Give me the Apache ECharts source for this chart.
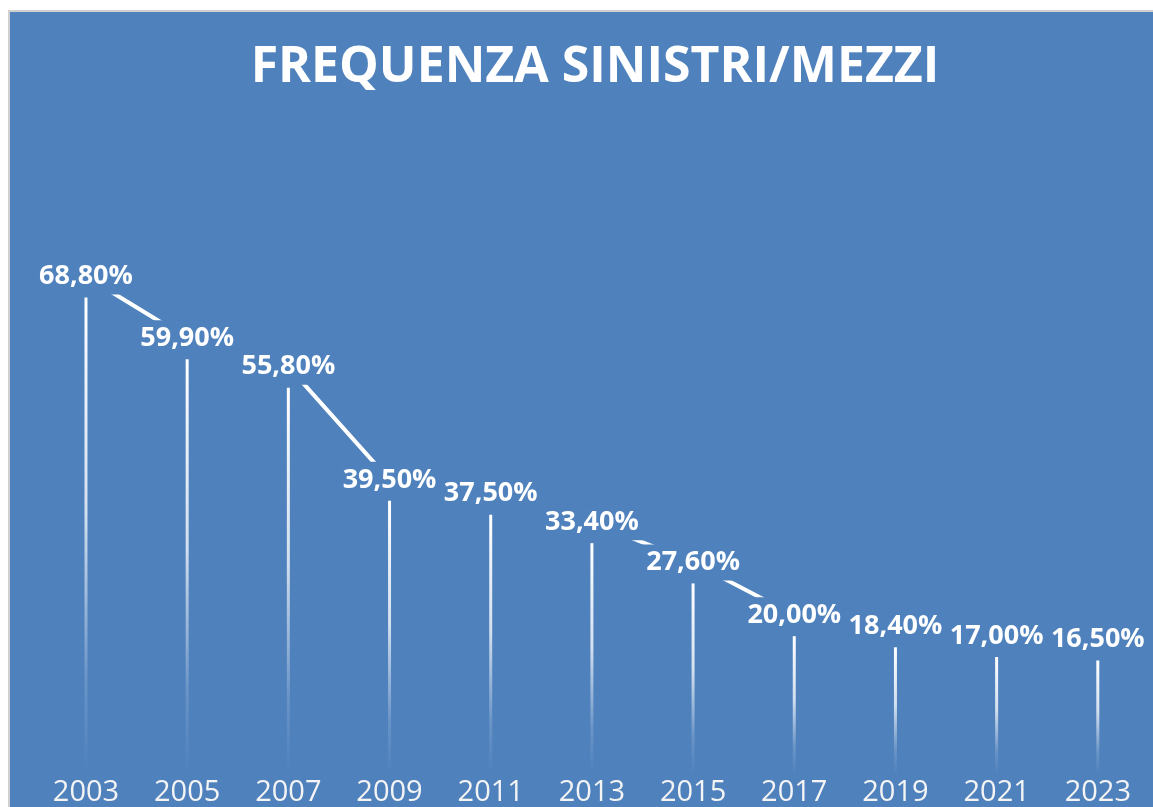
<!DOCTYPE html>
<html>
<head>
<meta charset="utf-8">
<script src="https://cdn.jsdelivr.net/npm/echarts@6/dist/echarts.min.js"></script>
<style>
html,body{margin:0;padding:0;background:#ffffff;width:1153px;height:807px;overflow:hidden;}
#frame{position:absolute;left:8px;top:10px;border-left:2px solid #d0d0d0;border-top:2px solid #d0d0d0;width:1143px;height:795px;background:#4F81BD;}
#chart{width:1143px;height:795px;}
</style>
</head>
<body>
<div id="frame"><div id="chart"></div></div>
<script>
const titleText = 'FREQUENZA SINISTRI/MEZZI';
const years = ['2003','2005','2007','2009','2011','2013','2015','2017','2019','2021','2023'];
const freq = [68.8, 59.9, 55.8, 39.5, 37.5, 33.4, 27.6, 20.0, 18.4, 17.0, 16.5];
const yMin = 0;
const yMax = 80;

const chart = echarts.init(document.getElementById('chart'), null, {renderer:'canvas'});
const barGradient = new echarts.graphic.LinearGradient(0, 0, 0, 1, [
  {offset: 0, color: 'rgba(255,255,255,1)'},
  {offset: 0.45, color: 'rgba(255,255,255,0.75)'},
  {offset: 0.8, color: 'rgba(255,255,255,0.15)'},
  {offset: 1, color: 'rgba(255,255,255,0)'}
]);
const dropOffset = 21;

const option = {
  animation: false,
  backgroundColor: '#4F81BD',
  title: {
    text: titleText,
    left: 580,
    textAlign: 'center',
    top: 26,
    textStyle: {color:'#ffffff', fontSize:50, fontWeight:'bold', fontFamily:'Open Sans'}
  },
  grid: {left: 25.4, right: 4.6, top: 186.7, bottom: 52.3, containLabel: false},
  xAxis: {
    type: 'category',
    data: years,
    boundaryGap: true,
    axisLine: {show:false},
    axisTick: {show:false},
    splitLine: {show:false},
    axisLabel: {color:'#F4F4F4', fontSize:29, fontFamily:'Open Sans', margin:24}
  },
  yAxis: {
    type: 'value', min: yMin, max: yMax, show: false,
    splitLine: {show:false}
  },
  series: [
    {
      type: 'custom',
      z: 1,
      data: years.map((y, i) => [i, freq[i]]),
      renderItem: function(params, api) {
        const top = api.coord([api.value(0), api.value(1)]);
        const base = api.coord([api.value(0), 0]);
        return {
          type: 'rect',
          shape: {x: top[0] - 1.5, y: top[1] + dropOffset, width: 3, height: base[1] - top[1]},
          style: {fill: barGradient}
        };
      }
    },
    {
      type: 'line',
      z: 2,
      data: freq,
      symbol: 'circle',
      symbolSize: 0,
      showSymbol: true,
      itemStyle: {color: '#ffffff'},
      lineStyle: {color:'#ffffff', width:4},
      label: {
        show: true,
        position: 'inside',
        offset: [0, 2],
        formatter: p => Number(p.value).toFixed(2).replace('.', ',') + '%',
        color: '#ffffff',
        fontSize: 27,
        fontWeight: 'bold',
        fontFamily: 'Open Sans',
        backgroundColor: '#4F81BD',
        lineHeight: 36,
        padding: [0, 6]
      },
      labelLayout: {hideOverlap: false}
    }
  ]
};
chart.setOption(option);
</script>
</body>
</html>
